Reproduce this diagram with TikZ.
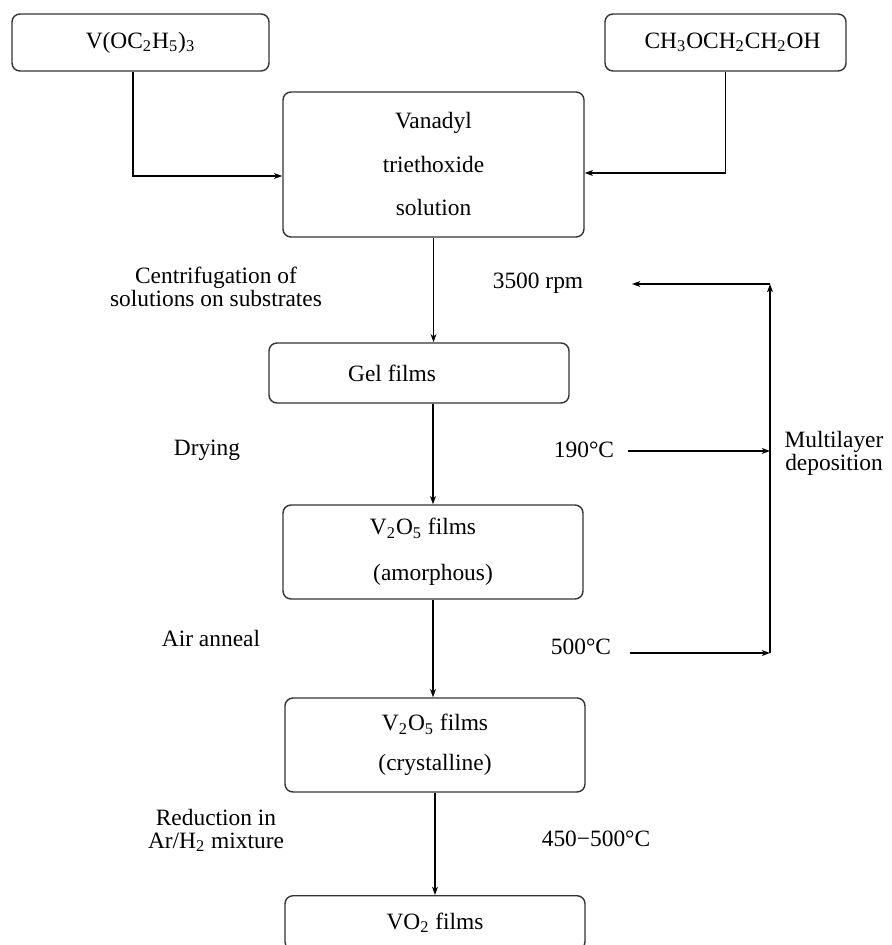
\documentclass[tikz,border=0pt]{standalone}
\usepackage{fontspec}
\setmainfont{Liberation Serif}
\usepackage{tikz}
\usetikzlibrary{arrows.meta,positioning,calc}
\newcommand{\subs}[1]{\textsubscript{#1}}

\begin{document}
\begin{tikzpicture}[x=0.5pt,y=-0.5pt,
    font=\fontsize{11.7}{11.5}\selectfont,
    stage/.style={draw=black!80,line width=0.7pt,rounded corners=4pt,
                  inner sep=0pt,align=center,minimum width=150pt},
    flow/.style={line width=0.6pt,-{Stealth[length=4.2pt,width=3pt]}},
    lbl/.style={inner sep=0pt,align=center}]
  \useasboundingbox (0,0) rectangle (891,945);
  \clip (0,0) rectangle (891,945);
  % --- starting reagents ---
  \node[stage,minimum width=128.5pt,minimum height=28.5pt] (srcV) at (140.5,42.5)
       {V(OC\subs{2}H\subs{5})\subs{3}};
  \node[stage,minimum width=120.5pt,minimum height=28.5pt] (srcS) at (725.5,42.5)
       {\hspace*{7pt}CH\subs{3}OCH\subs{2}CH\subs{2}OH};
  % --- process chain ---
  \node[stage,minimum width=150.5pt,minimum height=72.5pt] (sol) at (433.5,164.5)
       {Vanadyl\\[10.25pt]triethoxide\\[10.25pt]solution};
  \node[stage,minimum height=30pt] (gel) at (419,373) {\hspace*{-27pt}Gel films};
  \node[stage,minimum height=47pt] (amor) at (433,552)
       {\hspace*{-10pt}V\subs{2}O\subs{5} films\\[11.5pt](amorphous)};
  \node[stage,minimum height=47pt] (cryst) at (435,745)
       {V\subs{2}O\subs{5} films\\[8.5pt](crystalline)};
  \node[stage,minimum height=27pt,anchor=north] (vo2) at (435,895) {VO\subs{2} films};
  \draw[flow] ([xshift=-3.75pt]srcV.south) |- ([yshift=-5.75pt]sol.west);
  \draw[flow] (srcS.south) |- ([yshift=-4.25pt]sol.east);
  \draw[flow] (sol.south) -- (sol.south |- gel.north);
  \draw[flow] (gel.south -| amor.north) -- (amor.north);
  \draw[flow] (amor.south) -- (amor.south |- cryst.north);
  \draw[flow] (cryst.south) -- (vo2.north);
  % --- step names ---
  \node[lbl] (lcentr) at (216,287) {Centrifugation of\\solutions on substrates};
  \node[lbl] (ldry) at (207,450) {Drying};
  \node[lbl] (lanneal) at (211,638) {Air anneal};
  \node[lbl] (lreduce) at (216,830.5) {Reduction in\\Ar/H\subs{2} mixture};
  % --- conditions ---
  \node[lbl] (trpm) at (538,283) {3500 rpm};
  \node[lbl] (t190) at (584,450) {190°C};
  \node[lbl] (t500) at (581,647) {500°C};
  \node[lbl] (trange) at (596,839) {450−500°C};
  \node[lbl] (multi) at (834,453) {Multilayer\\deposition};
  % multilayer loop
  \coordinate (mtop) at (770,284);
  \coordinate (m190) at (770,451);
  \coordinate (mbot) at (770,653);
  \coordinate (arpm) at (632,284);
  \coordinate (a190) at (628,451);
  \coordinate (a500) at (630,653);
  \draw[flow] (mbot) -- (mtop);
  \draw[flow] (mtop) -- (arpm);
  \draw[flow] (a190) -- (m190);
  \draw[flow] (a500) -- (mbot);
\end{tikzpicture}
\end{document}
